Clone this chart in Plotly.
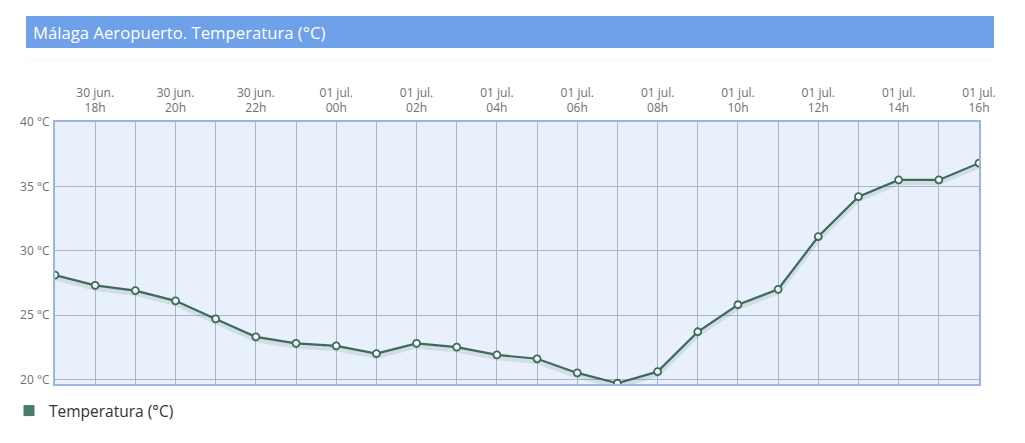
import plotly.graph_objects as go

horas = ["2024-06-30 17:00", "2024-06-30 18:00", "2024-06-30 19:00", "2024-06-30 20:00",
         "2024-06-30 21:00", "2024-06-30 22:00", "2024-06-30 23:00", "2024-07-01 00:00",
         "2024-07-01 01:00", "2024-07-01 02:00", "2024-07-01 03:00", "2024-07-01 04:00",
         "2024-07-01 05:00", "2024-07-01 06:00", "2024-07-01 07:00", "2024-07-01 08:00",
         "2024-07-01 09:00", "2024-07-01 10:00", "2024-07-01 11:00", "2024-07-01 12:00",
         "2024-07-01 13:00", "2024-07-01 14:00", "2024-07-01 15:00", "2024-07-01 16:00"]
temperatura = [28.1, 27.3, 26.9, 26.1, 24.7, 23.3, 22.8, 22.6, 22.0, 22.8, 22.5, 21.9,
               21.6, 20.5, 19.7, 20.6, 23.7, 25.8, 27.0, 31.1, 34.2, 35.5, 35.5, 36.8]

tick_horas = ["2024-06-30 18:00", "2024-06-30 20:00", "2024-06-30 22:00", "2024-07-01 00:00",
              "2024-07-01 02:00", "2024-07-01 04:00", "2024-07-01 06:00", "2024-07-01 08:00",
              "2024-07-01 10:00", "2024-07-01 12:00", "2024-07-01 14:00", "2024-07-01 16:00"]
tick_textos = ["30 jun.<br>18h", "30 jun.<br>20h", "30 jun.<br>22h", "01 jul.<br>00h",
               "01 jul.<br>02h", "01 jul.<br>04h", "01 jul.<br>06h", "01 jul.<br>08h",
               "01 jul.<br>10h", "01 jul.<br>12h", "01 jul.<br>14h", "01 jul.<br>16h"]
y_ticks = [20, 25, 30, 35, 40]
y_textos = ["20 °C", "25 °C", "30 °C", "35 °C", "40 °C"]

verde = "#3f6b5c"
# la pagina deja 8px de margen al cuerpo
OFF = 8
W, H = 1025 - OFF, 443 - OFF
L, R, T, B = 55, 979, 122, 384  # borde del area de dibujo en la pagina


def px(x):
    return (x - L) / (R - L)


def py(y):
    return (B - y) / (B - T)


fig = go.Figure()

# sombra suave bajo la linea
fig.add_trace(go.Scatter(x=horas, y=temperatura, mode="lines", yaxis="y2",
                         line=dict(color="rgba(60,100,90,0.13)", width=5),
                         hoverinfo="skip", showlegend=False))

fig.add_trace(go.Scatter(x=horas, y=temperatura, mode="lines+markers",
                         name="Temperatura (°C)", showlegend=False,
                         line=dict(color=verde, width=2.2),
                         marker=dict(size=7, color="white", line=dict(color=verde, width=1.8))))

# entrada de leyenda con simbolo cuadrado
fig.add_trace(go.Scatter(x=[None], y=[None], mode="markers", name="Temperatura (°C)",
                         marker=dict(symbol="square", size=11, color="#4a7a68")))

fig.update_layout(
    width=W, height=H,
    margin=dict(l=L - OFF, r=1025 - R, t=T - OFF, b=443 - B, autoexpand=False),
    paper_bgcolor="white",
    plot_bgcolor="#e8f0fb",
    font=dict(family="Open Sans", color="#707070", size=12),
    showlegend=True,
    legend=dict(x=px(9), y=py(394), xanchor="left", yanchor="top",
                font=dict(size=15.5, color="#333333"), itemwidth=30,
                bgcolor="rgba(0,0,0,0)"),
    xaxis=dict(type="date", side="top", range=[horas[0], horas[-1]],
               tickvals=tick_horas, ticktext=tick_textos,
               showgrid=True, gridcolor="#aab5c9", gridwidth=1,
               minor=dict(dtick=3600000, showgrid=True, gridcolor="#aab5c9", gridwidth=1),
               showline=True, linecolor="#9bb4e2", linewidth=2, mirror=True,
               ticks="", ticklabelstandoff=3, zeroline=False,
               tickfont=dict(size=12, color="#707070")),
    yaxis=dict(range=[19.64, 40], tickvals=y_ticks, ticktext=y_textos,
               showgrid=True, gridcolor="#aab5c9", gridwidth=1,
               showline=True, linecolor="#9bb4e2", linewidth=2, mirror=True,
               ticks="", zeroline=False, ticklabelstandoff=1,
               tickfont=dict(size=12, color="#707070")),
    yaxis2=dict(range=[19.64 + 0.22, 40 + 0.22], overlaying="y", visible=False),
    shapes=[
        dict(type="rect", xref="paper", yref="paper",
             x0=px(26), x1=px(994), y0=py(48), y1=py(16),
             fillcolor="#6fa0ea", line=dict(width=0), layer="above"),
        dict(type="line", xref="paper", yref="paper",
             x0=px(26), x1=px(994), y0=py(60), y1=py(60),
             line=dict(color="#fbf8ec", width=1)),
    ],
    annotations=[
        dict(text="Málaga Aeropuerto. Temperatura (°C)", xref="paper", yref="paper",
             x=px(31), y=py(32), xanchor="left", yanchor="middle", showarrow=False,
             font=dict(family="Open Sans", size=16.7, color="white")),
    ],
)

fig.write_html("out.html")
